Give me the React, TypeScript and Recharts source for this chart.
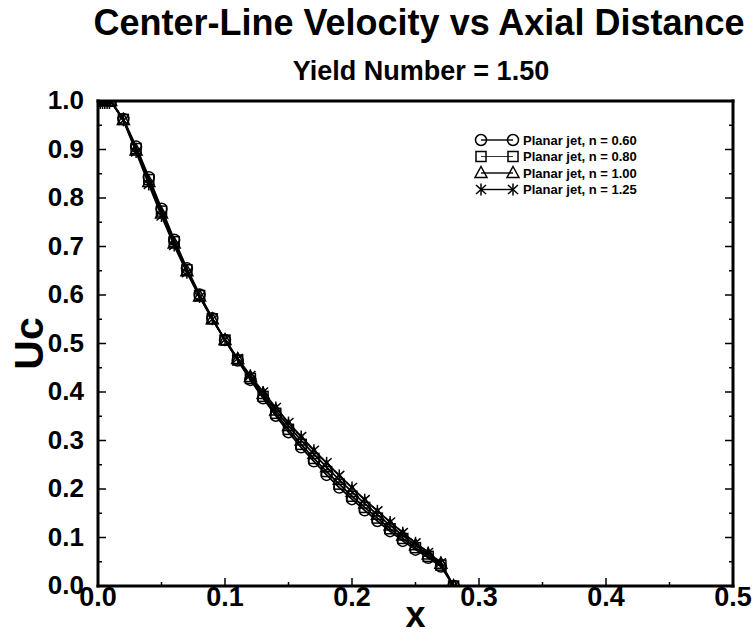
import { LineChart, Line, XAxis, YAxis, Legend, Label } from "recharts";

// axial distance samples
const X_VALUES = [
  0, 0.01, 0.02, 0.03, 0.04, 0.05, 0.06, 0.07, 0.08, 0.09, 0.1, 0.11, 0.12, 0.13, 0.14,
  0.15, 0.16, 0.17, 0.18, 0.19, 0.2, 0.21, 0.22, 0.23, 0.24, 0.25, 0.26, 0.27, 0.28,
];

// center-line velocity Uc for each power-law index n
const U_N060 = [
  1.0, 1.0, 0.963, 0.906, 0.843, 0.778, 0.714, 0.655, 0.601, 0.552, 0.507, 0.465, 0.425, 0.387,
  0.351, 0.317, 0.286, 0.257, 0.229, 0.203, 0.179, 0.156, 0.134, 0.113, 0.093, 0.075, 0.058,
  0.04, 0.0,
];
const U_N080 = [
  1.0, 1.0, 0.962, 0.902, 0.838, 0.773, 0.71, 0.652, 0.599, 0.551, 0.507, 0.466, 0.428, 0.391,
  0.356, 0.323, 0.292, 0.263, 0.236, 0.21, 0.185, 0.162, 0.14, 0.118, 0.098, 0.079, 0.061,
  0.043, 0.0,
];
const U_N100 = [
  1.0, 1.0, 0.961, 0.898, 0.833, 0.768, 0.706, 0.649, 0.597, 0.55, 0.507, 0.468, 0.431, 0.396,
  0.362, 0.33, 0.3, 0.272, 0.245, 0.219, 0.194, 0.17, 0.147, 0.125, 0.104, 0.084, 0.065,
  0.046, 0.0,
];
const U_N125 = [
  1.0, 1.0, 0.96, 0.895, 0.828, 0.763, 0.702, 0.646, 0.596, 0.55, 0.508, 0.469, 0.434, 0.4,
  0.368, 0.337, 0.308, 0.28, 0.254, 0.228, 0.203, 0.178, 0.155, 0.132, 0.11, 0.089, 0.069,
  0.048, 0.0,
];

const SERIES_NAMES = [
  "Planar jet, n = 0.60",
  "Planar jet, n = 0.80",
  "Planar jet, n = 1.00",
  "Planar jet, n = 1.25",
];

const X_TICKS = [0, 0.05, 0.1, 0.15, 0.2, 0.25, 0.3, 0.35, 0.4, 0.45, 0.5];
const Y_TICKS = [
  0, 0.05, 0.1, 0.15, 0.2, 0.25, 0.3, 0.35, 0.4, 0.45, 0.5, 0.55, 0.6, 0.65, 0.7, 0.75, 0.8,
  0.85, 0.9, 0.95, 1.0,
];

const TITLE = "Center-Line Velocity vs Axial Distance";
const SUBTITLE = "Yield Number = 1.50";

type Shape = "circle" | "square" | "triangle" | "star";

const SERIES: { key: string; name: string; shape: Shape }[] = [
  { key: "n060", name: SERIES_NAMES[0], shape: "circle" },
  { key: "n080", name: SERIES_NAMES[1], shape: "square" },
  { key: "n100", name: SERIES_NAMES[2], shape: "triangle" },
  { key: "n125", name: SERIES_NAMES[3], shape: "star" },
];

const data = X_VALUES.map((x, i) => ({
  x,
  n060: U_N060[i],
  n080: U_N080[i],
  n100: U_N100[i],
  n125: U_N125[i],
}));

const FONT = '"Liberation Sans", Arial, Helvetica, sans-serif';
const INK = "#000";
const AXIS_LINE = { stroke: INK, strokeWidth: 3, strokeLinecap: "square" as const };
const MAJOR = 8;
const MINOR = 4;

const isMajor = (v: number) => Math.round(v * 100) % 10 === 0;

function Marker({ shape, cx, cy }: { shape: Shape; cx: number; cy: number }) {
  const common = { fill: "none", stroke: INK, strokeWidth: 1.5 };
  if (cx == null || cy == null) return null;
  switch (shape) {
    case "circle":
      return <circle cx={cx} cy={cy} r={5.5} {...common} />;
    case "square":
      return <rect x={cx - 5} y={cy - 5} width={10} height={10} {...common} />;
    case "triangle":
      return (
        <polygon
          points={`${cx},${cy - 6.5} ${cx - 6},${cy + 4.5} ${cx + 6},${cy + 4.5}`}
          {...common}
        />
      );
    default:
      return (
        <g stroke={INK} strokeWidth={1.5}>
          <line x1={cx} y1={cy - 6} x2={cx} y2={cy + 6} />
          <line x1={cx - 5} y1={cy - 4.5} x2={cx + 5} y2={cy + 4.5} />
          <line x1={cx - 5} y1={cy + 4.5} x2={cx + 5} y2={cy - 4.5} />
        </g>
      );
  }
}

function BottomTick({ x, y, payload }: any) {
  const v = payload.value as number;
  const major = isMajor(v);
  return (
    <g>
      <line x1={x} y1={y} x2={x} y2={y - (major ? MAJOR : MINOR)} stroke={INK} strokeWidth={1.5} />
      {major && (
        <text x={x} y={y + 20} textAnchor="middle" fontSize={27} fontWeight="bold" fill={INK} fontFamily={FONT}>
          {v.toFixed(1)}
        </text>
      )}
    </g>
  );
}

function TopTick({ x, y, payload }: any) {
  const major = isMajor(payload.value);
  return <line x1={x} y1={y} x2={x} y2={y + (major ? MAJOR : MINOR)} stroke={INK} strokeWidth={1.5} />;
}

function LeftTick({ x, y, payload }: any) {
  const v = payload.value as number;
  const major = isMajor(v);
  return (
    <g>
      <line x1={x} y1={y} x2={x + (major ? MAJOR : MINOR)} y2={y} stroke={INK} strokeWidth={1.5} />
      {major && (
        <text x={x - 14} y={y + 8} textAnchor="end" fontSize={26} fontWeight="bold" fill={INK} fontFamily={FONT}>
          {v.toFixed(1)}
        </text>
      )}
    </g>
  );
}

function RightTick({ x, y, payload }: any) {
  const major = isMajor(payload.value);
  return <line x1={x} y1={y} x2={x - (major ? MAJOR : MINOR)} y2={y} stroke={INK} strokeWidth={1.5} />;
}

function LegendBox() {
  const rows = [11, 27.5, 44, 60.5];
  return (
    <svg width={190} height={72} style={{ display: "block" }}>
      {SERIES.map((s, i) => (
        <g key={s.key}>
          <line x1={11} y1={rows[i]} x2={43} y2={rows[i]} stroke={INK} strokeWidth={s.shape === "square" ? 0.8 : 1.4} />
          <Marker shape={s.shape} cx={11} cy={rows[i]} />
          <Marker shape={s.shape} cx={43} cy={rows[i]} />
          <text x={53} y={rows[i] + 4.5} fontSize={13} fontWeight="bold" fill={INK} fontFamily={FONT}>
            {s.name}
          </text>
        </g>
      ))}
    </svg>
  );
}

export default function App() {
  return (
    <div style={{ position: "absolute", left: 0, top: 0, width: 755, height: 635, background: "#fff" }}>
      <LineChart
        width={755}
        height={635}
        data={data}
        margin={{ top: 100, right: 21, bottom: 0, left: 0 }}
        style={{ fontFamily: FONT }}
      >
        <XAxis
          dataKey="x"
          type="number"
          domain={[0, 0.5]}
          ticks={X_TICKS}
          interval={0}
          height={49}
          tickSize={0}
          tickMargin={0}
          tickLine={false}
          axisLine={AXIS_LINE}
          tick={BottomTick}
          allowDataOverflow
        >
          <Label
            content={({ viewBox }: any) => (
              <text
                x={viewBox.x + viewBox.width / 2}
                y={viewBox.y + 41}
                textAnchor="middle"
                fontSize={36}
                fontWeight="bold"
                fill={INK}
                fontFamily={FONT}
              >
                x
              </text>
            )}
          />
        </XAxis>
        <XAxis
          xAxisId="top"
          orientation="top"
          type="number"
          domain={[0, 0.5]}
          ticks={X_TICKS}
          interval={0}
          height={1}
          tickSize={0}
          tickMargin={0}
          tickLine={false}
          axisLine={AXIS_LINE}
          tick={TopTick}
          allowDataOverflow
        />
        <YAxis
          type="number"
          domain={[0, 1]}
          ticks={Y_TICKS}
          interval={0}
          width={98}
          tickSize={0}
          tickMargin={0}
          tickLine={false}
          axisLine={AXIS_LINE}
          tick={LeftTick}
          allowDataOverflow
        >
          <Label
            content={({ viewBox }: any) => (
              <text
                transform={`translate(${viewBox.x + 43}, ${viewBox.y + viewBox.height / 2}) rotate(-90)`}
                textAnchor="middle"
                fontSize={41}
                fontWeight="bold"
                fill={INK}
                fontFamily={FONT}
              >
                Uc
              </text>
            )}
          />
        </YAxis>
        <YAxis
          yAxisId="right"
          orientation="right"
          type="number"
          domain={[0, 1]}
          ticks={Y_TICKS}
          interval={0}
          width={1}
          tickSize={0}
          tickMargin={0}
          tickLine={false}
          axisLine={AXIS_LINE}
          tick={RightTick}
          allowDataOverflow
        />
        <Legend
          layout="horizontal"
          verticalAlign="middle"
          align="center"
          content={() => <LegendBox />}
          wrapperStyle={{ position: "absolute", left: 470, top: 129, width: 190, height: 72 }}
        />
        {SERIES.map((s) => (
          <Line
            key={s.key}
            type="linear"
            dataKey={s.key}
            name={s.name}
            stroke={INK}
            strokeWidth={1.8}
            activeDot={false}
            isAnimationActive={false}
            dot={(p: any) => <Marker key={`${s.key}-${p.index}`} shape={s.shape} cx={p.cx} cy={p.cy} />}
          />
        ))}
      </LineChart>
      <svg
        width={755}
        height={95}
        style={{ position: "absolute", left: 0, top: 0, pointerEvents: "none" }}
      >
        <text x={419} y={35} textAnchor="middle" fontSize={36} fontWeight="bold" fill={INK} fontFamily={FONT}>
          {TITLE}
        </text>
        <text x={421} y={80} textAnchor="middle" fontSize={27} fontWeight="bold" fill={INK} fontFamily={FONT}>
          {SUBTITLE}
        </text>
      </svg>
    </div>
  );
}
